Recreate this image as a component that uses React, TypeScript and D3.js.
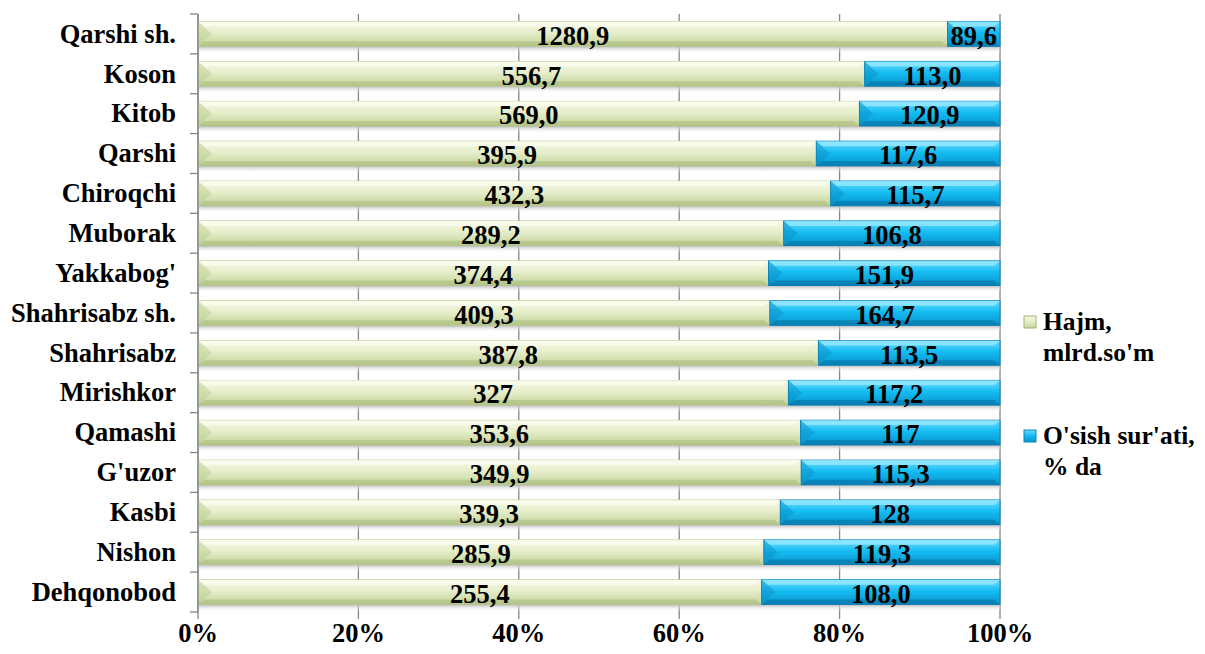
import React from "react";
import * as d3 from "d3";

const categories = [
  "Qarshi sh.", "Koson", "Kitob", "Qarshi", "Chiroqchi", "Muborak", "Yakkabog'",
  "Shahrisabz sh.", "Shahrisabz", "Mirishkor", "Qamashi", "G'uzor", "Kasbi", "Nishon", "Dehqonobod",
];
const hajm = [1280.9, 556.7, 569.0, 395.9, 432.3, 289.2, 374.4, 409.3, 387.8, 327, 353.6, 349.9, 339.3, 285.9, 255.4];
const hajmLabels = ["1280,9", "556,7", "569,0", "395,9", "432,3", "289,2", "374,4", "409,3", "387,8", "327", "353,6", "349,9", "339,3", "285,9", "255,4"];
const osish = [89.6, 113.0, 120.9, 117.6, 115.7, 106.8, 151.9, 164.7, 113.5, 117.2, 117, 115.3, 128, 119.3, 108.0];
const osishLabels = ["89,6", "113,0", "120,9", "117,6", "115,7", "106,8", "151,9", "164,7", "113,5", "117,2", "117", "115,3", "128", "119,3", "108,0"];
const xTicks = [0, 0.2, 0.4, 0.6, 0.8, 1];
const legendLabels = [["Hajm,", "mlrd.so'm"], ["O'sish sur'ati,", "% da"]];

const FONT = "'Liberation Serif', 'Times New Roman', serif";

export default function App() {
  const W = 1205, H = 654;
  const left = 198, right = 1000, top = 14, bottom = 612;
  const x = d3.scaleLinear().domain([0, 1]).range([left, right]);
  const y = d3.scaleBand().domain(categories).range([top, bottom]).paddingInner(0.38).paddingOuter(0.19);
  const bh = y.bandwidth();
  const step = y.step();

  const segs = categories.map((c, i) => {
    const total = hajm[i] + osish[i];
    const p = hajm[i] / total;
    return { c, i, p };
  });

  const bevel = (x0: number, x1: number, y0: number, h: number, light: string, dark: string, side: string) => {
    const b = Math.min(6, (x1 - x0) / 2);
    const t = 5;
    return (
      <g>
        <polygon points={`${x0},${y0} ${x1},${y0} ${x1 - b},${y0 + t} ${x0 + b},${y0 + t}`} fill={light} opacity={0.75} />
        <polygon points={`${x0},${y0 + h} ${x1},${y0 + h} ${x1 - b},${y0 + h - t} ${x0 + b},${y0 + h - t}`} fill={dark} opacity={0.55} />
        <polygon points={`${x0},${y0} ${x0 + b + 8},${y0 + h / 2} ${x0},${y0 + h}`} fill={side} opacity={0.45} />
      </g>
    );
  };

  return (
    <svg width={W} height={H} style={{ display: "block", position: "absolute", left: 0, top: 0 }}>
      <defs>
        <linearGradient id="gG" x1="0" y1="0" x2="0" y2="1">
          <stop offset="0" stopColor="#f6f9e4" />
          <stop offset="0.45" stopColor="#e6eecb" />
          <stop offset="1" stopColor="#c3d39a" />
        </linearGradient>
        <linearGradient id="gB" x1="0" y1="0" x2="0" y2="1">
          <stop offset="0" stopColor="#6fdcff" />
          <stop offset="0.45" stopColor="#14bdf2" />
          <stop offset="1" stopColor="#0795cc" />
        </linearGradient>
        <linearGradient id="gS" x1="0" y1="0" x2="0" y2="1">
          <stop offset="0" stopColor="#b8b8b8" />
          <stop offset="1" stopColor="#ffffff" stopOpacity="0" />
        </linearGradient>
      </defs>
      <rect width={W} height={H} fill="#fff" />
      {xTicks.map((t) => (
        <line key={t} x1={x(t)} x2={x(t)} y1={top} y2={bottom + 7} stroke="#868686" strokeWidth={1.3} />
      ))}
      {segs.map((s) => {
        const y0 = (y(s.c) as number) + bh;
        return <rect key={"s" + s.i} x={x(0)} y={y0} width={x(1) - x(0)} height={7} fill="url(#gS)" />;
      })}
      {segs.map((s) => {
        const y0 = y(s.c) as number;
        const xa = x(0), xm = x(s.p), xb = x(1);
        return (
          <g key={"b" + s.i}>
            <rect x={xa} y={y0} width={xm - xa} height={bh} fill="url(#gG)" stroke="#b4c48a" strokeWidth={0.8} />
            {bevel(xa, xm, y0, bh, "#fbfdf0", "#a9bb7c", "#b9ca8a")}
            <rect x={xm} y={y0} width={xb - xm} height={bh} fill="url(#gB)" stroke="#0a83b8" strokeWidth={1} />
            {bevel(xm, xb, y0, bh, "#9be9ff", "#0670a0", "#0a8cc4")}
          </g>
        );
      })}
      <line x1={left} x2={left} y1={top} y2={bottom} stroke="#868686" strokeWidth={1.3} />
      {d3.range(categories.length + 1).map((k) => (
        <line key={"yt" + k} x1={left - 8} x2={left} y1={top + k * step} y2={top + k * step} stroke="#868686" strokeWidth={1.3} />
      ))}
      {segs.map((s) => (
        <text key={"c" + s.i} x={176} y={(y(s.c) as number) + bh / 2} dy="0.33em" textAnchor="end"
          fontFamily={FONT} fontWeight="bold" fontSize={26.5} fill="#000">{s.c}</text>
      ))}
      {segs.map((s) => {
        const cy = (y(s.c) as number) + bh / 2;
        return (
          <g key={"v" + s.i} fontFamily={FONT} fontWeight="bold" fontSize={26.5} fill="#000" textAnchor="middle">
            <text x={(x(0) + x(s.p)) / 2} y={cy + 2} dy="0.33em">{hajmLabels[s.i]}</text>
            <text x={(x(s.p) + x(1)) / 2} y={cy + 2} dy="0.33em">{osishLabels[s.i]}</text>
          </g>
        );
      })}
      {xTicks.map((t) => (
        <text key={"xt" + t} x={x(t)} y={633} dy="0.33em" textAnchor="middle"
          fontFamily={FONT} fontWeight="bold" fontSize={26.5} fill="#000">{d3.format(".0%")(t)}</text>
      ))}
      {legendLabels.map((ls, k) => {
        const ly = 322 + k * 114;
        return (
          <g key={"l" + k}>
            <rect x={1024} y={ly - 6} width={12} height={12} fill={k === 0 ? "url(#gG)" : "url(#gB)"} stroke={k === 0 ? "#a4b47a" : "#0a83b8"} strokeWidth={1} />
            {ls.map((t, j) => (
              <text key={j} x={1043} y={ly + j * 31} dy="0.33em" fontFamily={FONT} fontWeight="bold" fontSize={25.5} fill="#000">{t}</text>
            ))}
          </g>
        );
      })}
    </svg>
  );
}
